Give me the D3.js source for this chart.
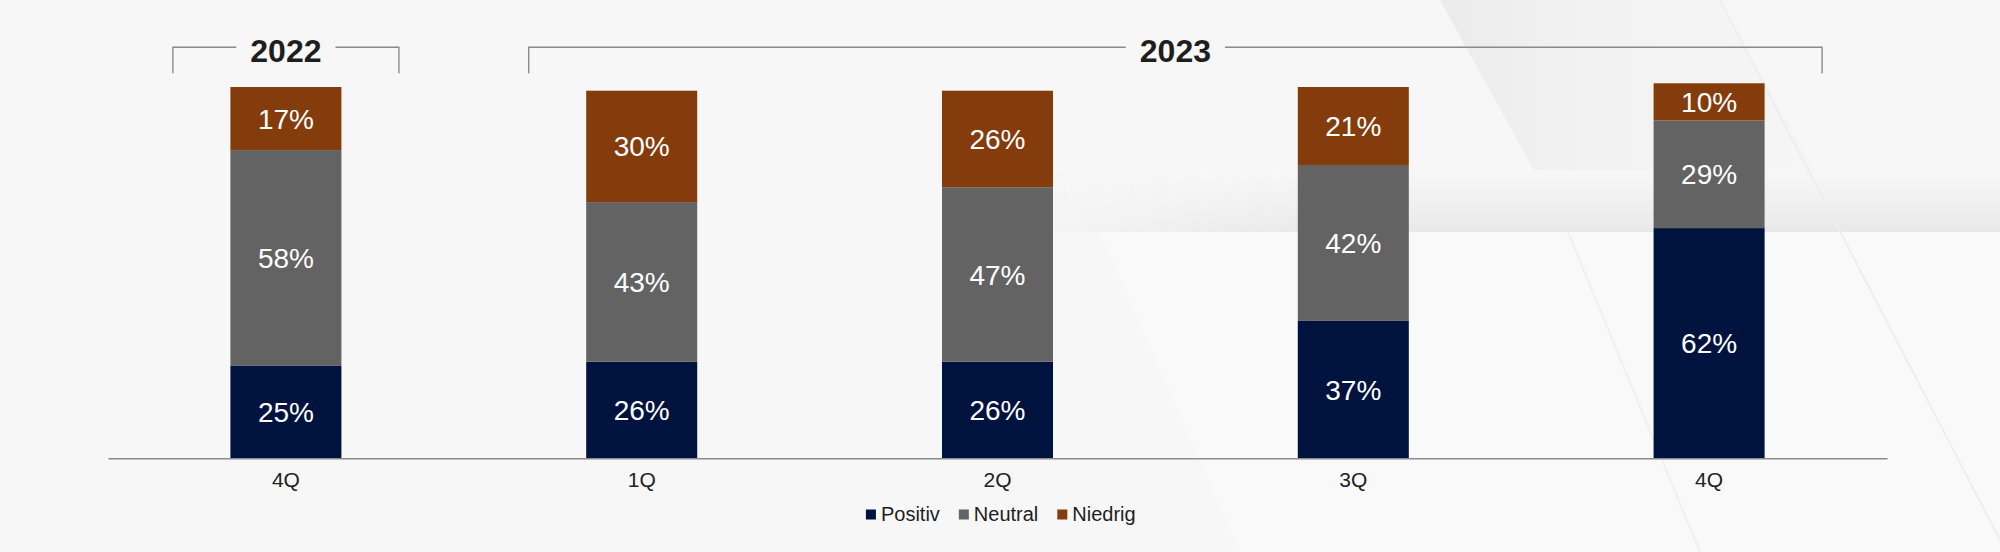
<!DOCTYPE html>
<html>
<head>
<meta charset="utf-8">
<script src="https://cdn.jsdelivr.net/npm/d3@7"></script>
<style>
  html, body { margin: 0; padding: 0; background: #f7f7f7; }
  svg { display: block; font-family: "Liberation Sans", Arial, sans-serif; }
</style>
</head>
<body>
<svg id="chart" width="2000" height="552"></svg>
<script>
// ---- data ----
const periods = ["2022-4Q", "2023-1Q", "2023-2Q", "2023-3Q", "2023-4Q"];
const tickLabels = ["4Q", "1Q", "2Q", "3Q", "4Q"];
const seriesNames = ["Positiv", "Neutral", "Niedrig"];
const positiv = [25, 26, 26, 37, 62];
const neutral = [58, 43, 47, 42, 29];
const niedrig = [17, 30, 26, 21, 10];
const yearLabels = ["2022", "2023"];
const yearGroups = [["2022-4Q"], ["2023-1Q", "2023-2Q", "2023-3Q", "2023-4Q"]];
const colors = ["#00133f", "#636363", "#843c0c"];

// ---- setup ----
const W = 2000, H = 552;
const svg = d3.select("#chart");

// background decoration
const defs = svg.append("defs");
const band = defs.append("linearGradient").attr("id", "bandGrad").attr("x1", 0).attr("y1", 0).attr("x2", 0).attr("y2", 1);
band.append("stop").attr("offset", "0%").attr("stop-color", "#f7f7f7");
band.append("stop").attr("offset", "85%").attr("stop-color", "#ececec");
band.append("stop").attr("offset", "100%").attr("stop-color", "#e8e8e8");
const fadeX = defs.append("linearGradient").attr("id", "fadeX").attr("x1", 0).attr("y1", 0).attr("x2", 1).attr("y2", 0);
fadeX.append("stop").attr("offset", "0%").attr("stop-color", "#fff").attr("stop-opacity", 0);
fadeX.append("stop").attr("offset", "30%").attr("stop-color", "#fff").attr("stop-opacity", 1);
fadeX.append("stop").attr("offset", "100%").attr("stop-color", "#fff").attr("stop-opacity", 1);
defs.append("mask").attr("id", "bandMask")
  .append("rect").attr("x", 1000).attr("y", 150).attr("width", 1000).attr("height", 90).attr("fill", "url(#fadeX)");
const diag = defs.append("linearGradient").attr("id", "diagGrad").attr("x1", 0).attr("y1", 0).attr("x2", 1).attr("y2", 0);
diag.append("stop").attr("offset", "0%").attr("stop-color", "#ebebec");
diag.append("stop").attr("offset", "35%").attr("stop-color", "#f2f2f2");
diag.append("stop").attr("offset", "100%").attr("stop-color", "#f6f6f6");

const bg = svg.append("g");
bg.append("rect").attr("width", W).attr("height", H).attr("fill", "#f7f7f7");
bg.append("polygon").attr("points", "1440,0 1720,0 1850,232 1568,232").attr("fill", "url(#diagGrad)");
bg.append("rect").attr("x", 1000).attr("y", 170).attr("width", 1000).attr("height", 62)
  .attr("fill", "url(#bandGrad)").attr("mask", "url(#bandMask)");
bg.append("polygon").attr("points", "1100,232 2000,232 2000,552 1240,552").attr("fill", "#f9f9f9");
bg.append("line").attr("x1", 1720).attr("y1", 0).attr("x2", 2000).attr("y2", 540).attr("stroke", "#eeeeee").attr("stroke-width", 2);
bg.append("line").attr("x1", 1568).attr("y1", 232).attr("x2", 1700).attr("y2", 552).attr("stroke", "#f0f0f0").attr("stroke-width", 2);

// ---- scales ----
const x = d3.scaleBand().domain(periods).range([108, 1887]).paddingInner(0.688).paddingOuter(0.344);
const y = d3.scaleLinear().domain([0, 100]).range([458.3, 87]);

const table = periods.map((p, i) => ({ period: p, Positiv: positiv[i], Neutral: neutral[i], Niedrig: niedrig[i] }));
const stack = d3.stack().keys(seriesNames)(table);

const g = svg.append("g");
stack.forEach((layer, li) => {
  const lg = g.append("g").attr("fill", colors[li]);
  lg.selectAll("rect").data(layer).join("rect")
    .attr("x", d => x(d.data.period))
    .attr("y", d => y(d[1]))
    .attr("width", x.bandwidth())
    .attr("height", d => y(d[0]) - y(d[1]));
  g.append("g").selectAll("text").data(layer).join("text")
    .attr("x", d => x(d.data.period) + x.bandwidth() / 2)
    .attr("y", d => (y(d[0]) + y(d[1])) / 2)
    .attr("dy", "0.36em")
    .attr("text-anchor", "middle")
    .attr("fill", "#ffffff")
    .attr("font-size", 28)
    .text(d => (d[1] - d[0]) + "%");
});

// ---- x axis ----
const axis = svg.append("g").attr("transform", `translate(0,${y(0)})`)
  .call(d3.axisBottom(x).tickSize(0).tickSizeOuter(0).tickPadding(14)
    .tickFormat((d, i) => tickLabels[i]));
axis.select(".domain").attr("stroke", "#8c8c8c").attr("stroke-width", 1.5);
axis.selectAll("text").attr("font-size", 21).attr("fill", "#222").attr("font-family", "Liberation Sans, Arial, sans-serif");

// ---- year brackets ----
const bracketY = 47.3, bracketBottom = 73.3, ext = 113;
yearGroups.forEach((grp, i) => {
  const cx0 = x(grp[0]) + x.bandwidth() / 2;
  const cx1 = x(grp[grp.length - 1]) + x.bandwidth() / 2;
  const left = cx0 - ext, right = cx1 + ext, mid = (cx0 + cx1) / 2;
  const bg2 = svg.append("g");
  const t = bg2.append("text").attr("x", mid).attr("y", 61.7).attr("text-anchor", "middle")
    .attr("font-size", 32).attr("font-weight", "bold").attr("fill", "#1e1e1e").text(yearLabels[i]);
  const tw = t.node().getComputedTextLength();
  const pad = 14;
  const path = d3.path();
  path.moveTo(left, bracketBottom); path.lineTo(left, bracketY); path.lineTo(mid - tw / 2 - pad, bracketY);
  path.moveTo(mid + tw / 2 + pad, bracketY); path.lineTo(right, bracketY); path.lineTo(right, bracketBottom);
  bg2.append("path").attr("d", path.toString()).attr("fill", "none").attr("stroke", "#8a8a8a").attr("stroke-width", 1.4);
});

// ---- legend ----
const legend = svg.append("g");
let cursor = 0;
seriesNames.forEach((name, i) => {
  const it = legend.append("g");
  it.append("rect").attr("x", cursor).attr("y", 509.5).attr("width", 10).attr("height", 10).attr("fill", colors[i]);
  const tx = it.append("text").attr("x", cursor + 15).attr("y", 521).attr("font-size", 20).attr("fill", "#1e1e1e").text(name);
  cursor += 15 + tx.node().getComputedTextLength() + 19;
});
const totalW = cursor - 19;
legend.attr("transform", `translate(${1000.8 - totalW / 2},0)`);
</script>
</body>
</html>
